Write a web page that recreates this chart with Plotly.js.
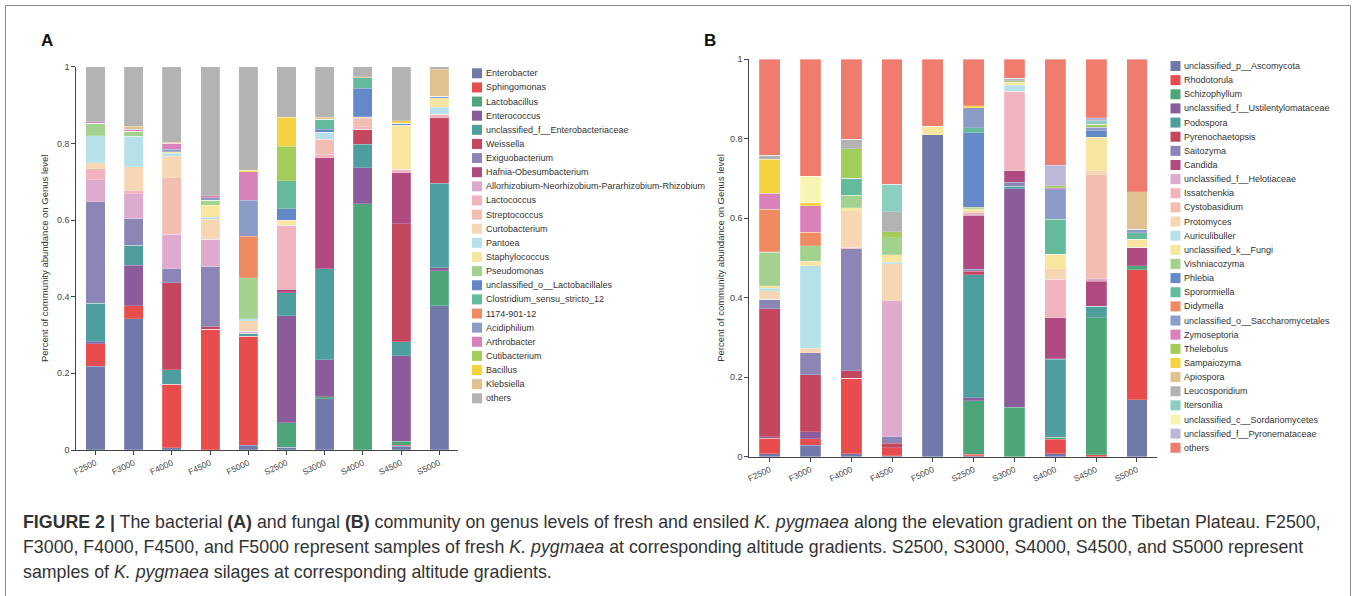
<!DOCTYPE html>
<html>
<head>
<meta charset="utf-8">
<script src="https://cdn.plot.ly/plotly-3.0.1.min.js"></script>
<style>html,body{margin:0;padding:0;background:#fff;}#chart{width:1357px;height:596px;}</style>
</head>
<body>
<div id="chart"></div>
<script>
// ---------- DATA ----------
const samples = ['F2500','F3000','F4000','F4500','F5000','S2500','S3000','S4000','S4500','S5000'];
const yTickVals = [0, 0.2, 0.4, 0.6, 0.8, 1];
const yTickText = ['0', '0.2', '0.4', '0.6', '0.8', '1'];

const bacteriaNames = ['Enterobacter','Sphingomonas','Lactobacillus','Enterococcus','unclassified_f__Enterobacteriaceae','Weissella','Exiguobacterium','Hafnia-Obesumbacterium','Allorhizobium-Neorhizobium-Pararhizobium-Rhizobium','Lactococcus','Streptococcus','Curtobacterium','Pantoea','Staphylococcus','Pseudomonas','unclassified_o__Lactobacillales','Clostridium_sensu_stricto_12','1174-901-12','Acidiphilium','Arthrobacter','Cutibacterium','Bacillus','Klebsiella','others'];

// bacterial relative abundance per sample (order = bacteriaNames)
const bacF2500 = [.219,.058,0,.005,.101,0,.265,0,.057,.029,0,.016,.070,0,.032,0,0,0,0,.005,0,0,0,.143];
const bacF3000 = [.343,.033,0,.106,.052,0,.070,0,.064,.008,0,.063,.080,0,.013,0,0,0,0,.005,0,0,.008,.155];
const bacF4000 = [.006,.166,0,0,.038,.227,.036,0,.090,0,.147,.057,.007,.004,0,0,0,0,.006,.016,0,0,.003,.197];
const bacF4500 = [0,.315,0,0,0,.007,.158,0,.070,0,0,.052,.005,.031,.014,0,0,0,.006,.005,0,0,0,.337];
const bacF5000 = [.012,.285,0,0,.007,0,0,0,.006,0,0,.027,.006,0,.106,0,0,.109,.094,.074,0,.004,0,.270];
const bacS2500 = [.007,0,.064,.279,.060,0,0,.009,0,.168,0,0,0,.013,0,.030,.073,0,0,0,.090,.075,0,.132];
const bacS3000 = [.134,0,.005,.096,.238,0,0,.290,0,.008,.040,0,.018,0,0,.008,.026,0,0,0,0,0,.005,.132];
const bacS4000 = [0,0,.642,.094,.062,.039,0,0,0,.006,.022,.005,0,0,0,.074,.027,0,0,0,0,0,.003,.026];
const bacS4500 = [.010,.003,.010,.223,.036,.308,0,.133,0,.010,0,0,0,.114,0,.005,0,0,0,0,0,.007,0,.141];
const bacS5000 = [.376,0,.092,.008,.220,.171,0,0,0,.009,0,0,.018,.025,0,.004,0,0,0,0,0,0,.070,.007];

const fungiNames = ['unclassified_p__Ascomycota','Rhodotorula','Schizophyllum','unclassified_f__Ustilentylomataceae','Podospora','Pyrenochaetopsis','Saitozyma','Candida','unclassified_f__Helotiaceae','Issatchenkia','Cystobasidium','Protomyces','Auriculibuller','unclassified_k__Fungi','Vishniacozyma','Phlebia','Sporormiella','Didymella','unclassified_o__Saccharomycetales','Zymoseptoria','Thelebolus','Sampaiozyma','Apiospora','Leucosporidium','Itersonilia','unclassified_c__Sordariomycetes','unclassified_f__Pyronemataceae','others'];

// fungal relative abundance per sample (order = fungiNames)
const funF2500 = [.007,.039,0,.004,0,.322,.024,0,0,0,0,.022,.006,.006,.084,0,.002,.107,0,.040,0,.085,0,.010,0,0,0,.242];
const funF3000 = [.029,.016,0,.018,0,.143,.056,0,0,0,0,.011,.207,.012,.039,0,0,.034,0,.067,0,.008,0,0,0,.066,0,.294];
const funF4000 = [.008,.189,0,0,0,.019,.307,0,0,.004,0,.092,0,.008,.031,0,.043,0,0,0,.074,0,0,.024,0,0,0,.201];
const funF4500 = [.003,.020,0,0,0,.011,.016,0,.342,0,0,.094,.003,.019,.043,0,0,0,0,0,.015,0,0,.051,.068,0,0,.315];
const funF5000 = [.810,0,0,0,0,0,0,0,0,0,0,0,0,.022,0,0,0,0,0,0,0,0,0,0,0,0,0,.168];
const funS2500 = [.003,.003,.135,.007,.310,.009,.005,.136,0,.006,0,.005,0,.005,.004,.187,.013,0,.050,0,0,.005,0,0,0,0,0,.117];
const funS3000 = [0,0,.124,.550,.006,0,.010,.029,0,.200,0,0,.016,.007,.004,0,0,0,0,0,0,0,0,.006,0,0,0,.048];
const funS4000 = [.008,.036,.005,0,.196,.002,0,.103,0,.096,0,.027,0,.037,0,0,.088,0,.076,.003,.005,0,0,0,0,0,.052,.266];
const funS4500 = [0,.005,.345,0,.028,0,0,.064,.006,0,.261,.010,0,.085,0,.016,0,0,.009,0,.008,0,0,0,.008,0,.008,.147];
const funS5000 = [.143,.327,.011,0,0,0,0,.046,0,0,0,0,0,.020,0,0,.016,0,.009,0,0,0,.095,0,0,0,0,.333];

// ---------- STYLES ----------
const basePalette = ['#6f7aaa','#e84c4c','#4da678','#8b5b9b','#4e9d9f','#c5475f','#8c86b6','#b04a80','#deaacd','#f1b3bd','#f2beb1','#f6d6b3','#b7e1ea','#f8e59f','#a2d28e','#6389c9','#64bb9b','#f08a61','#8b9cc8','#d982b9','#a3cd5b','#f5d23f','#e1c18f'];
const bacteriaColors = basePalette.concat(['#b3b3b3']);
const fungiColors = basePalette.concat(['#b3b3b3','#8acfc0','#f8f5b3','#bdb8db','#ef7c6d']);

const W = 1357, H = 596;
const PX = p => p / W;
const PY = p => 1 - p / H;
const FONT = 'Liberation Sans, Arial, sans-serif';

const bacSamples = [bacF2500,bacF3000,bacF4000,bacF4500,bacF5000,bacS2500,bacS3000,bacS4000,bacS4500,bacS5000];
const funSamples = [funF2500,funF3000,funF4000,funF4500,funF5000,funS2500,funS3000,funS4000,funS4500,funS5000];

const traces = [];
bacteriaNames.forEach((name, g) => {
  traces.push({
    type: 'bar', name: name, x: samples, y: bacSamples.map(s => s[g]),
    xaxis: 'x', yaxis: 'y', width: 0.5,
    marker: {color: bacteriaColors[g], line: {width: 0.4, color: 'rgba(255,255,255,0.5)'}},
    showlegend: false, hoverinfo: 'name+y'
  });
});
fungiNames.forEach((name, g) => {
  traces.push({
    type: 'bar', name: name, x: samples, y: funSamples.map(s => s[g]),
    xaxis: 'x2', yaxis: 'y2', width: 0.51,
    marker: {color: fungiColors[g], line: {width: 0.4, color: 'rgba(255,255,255,0.5)'}},
    showlegend: false, hoverinfo: 'name+y'
  });
});

const shapes = [];
const annotations = [];

// manual legends
function addLegend(names, colors, swX, txX, y0, step) {
  names.forEach((n, i) => {
    const cy = y0 + i * step;
    shapes.push({type: 'rect', xref: 'paper', yref: 'paper',
      x0: PX(swX), x1: PX(swX + 10), y0: PY(cy + 5), y1: PY(cy - 5),
      fillcolor: colors[i], line: {width: 0}});
    annotations.push({xref: 'paper', yref: 'paper', x: PX(txX), y: PY(cy),
      xanchor: 'left', yanchor: 'middle', showarrow: false, text: n,
      font: {family: FONT, size: 9, color: '#333'}});
  });
}
addLegend(bacteriaNames, bacteriaColors, 472, 484, 73.3, 14.13);
addLegend(fungiNames, fungiColors, 1170.5, 1182, 66, 14.14);

// panel letters
annotations.push({xref:'paper', yref:'paper', x: PX(47), y: PY(40), xanchor:'center', yanchor:'middle', showarrow:false, text:'<b>A</b>', font:{family: FONT, size: 17, color:'#111'}});
annotations.push({xref:'paper', yref:'paper', x: PX(710), y: PY(40), xanchor:'center', yanchor:'middle', showarrow:false, text:'<b>B</b>', font:{family: FONT, size: 17, color:'#111'}});

// caption
const capFont = {family: 'Liberation Sans, Arial, sans-serif', size: 17.8, color: '#333'};
const captionLines = [
  '<b>FIGURE 2 |</b> The bacterial <b>(A)</b> and fungal <b>(B)</b> community on genus levels of fresh and ensiled <i>K. pygmaea</i> along the elevation gradient on the Tibetan Plateau. F2500,',
  'F3000, F4000, F4500, and F5000 represent samples of fresh <i>K. pygmaea</i> at corresponding altitude gradients. S2500, S3000, S4000, S4500, and S5000 represent',
  'samples of <i>K. pygmaea</i> silages at corresponding altitude gradients.'
];
[522, 547, 572].forEach((cy, i) => {
  annotations.push({xref:'paper', yref:'paper', x: PX(21), y: PY(cy), xanchor:'left', yanchor:'middle', showarrow:false, text: captionLines[i], font: capFont});
});

// frame
shapes.push({type:'rect', xref:'paper', yref:'paper', x0: PX(5.5), x1: PX(1350.5), y0: PY(620), y1: PY(5.5), line:{color:'#8a8a8a', width:1}, fillcolor:'rgba(0,0,0,0)', layer:'below'});

const axisCommon = {
  showgrid: false, zeroline: false, showline: true, linecolor: '#444', linewidth: 1,
  ticks: 'outside', ticklen: 4, tickcolor: '#444',
  tickfont: {family: FONT, size: 9, color: '#444'}
};
const yTitle = 'Percent of community abundance on Genus level';

const layout = {
  width: W, height: H,
  margin: {l: 0, r: 0, t: 0, b: 0},
  paper_bgcolor: '#fff', plot_bgcolor: 'rgba(0,0,0,0)',
  barmode: 'stack', showlegend: false,
  xaxis: Object.assign({}, axisCommon, {domain: [PX(76.4), PX(458.4)], range: [-0.5, 9.5], type: 'category', tickangle: -25, anchor: 'y', tickfont: {family: FONT, size: 8.5, color: '#444'}}),
  yaxis: Object.assign({}, axisCommon, {domain: [PY(450), PY(66.7)], range: [0, 1], tickvals: yTickVals, ticktext: yTickText, anchor: 'x',
    title: {text: yTitle, standoff: 6, font: {family: FONT, size: 9.5, color: '#333'}}}),
  xaxis2: Object.assign({}, axisCommon, {domain: [PX(749.3), PX(1157.3)], range: [-0.5, 9.5], type: 'category', tickangle: -25, anchor: 'y2', tickfont: {family: FONT, size: 8.5, color: '#444'}}),
  yaxis2: Object.assign({}, axisCommon, {domain: [PY(456.7), PY(59.3)], range: [0, 1], tickvals: yTickVals, ticktext: yTickText, anchor: 'x2',
    title: {text: yTitle, standoff: 3, font: {family: FONT, size: 9.5, color: '#333'}}}),
  shapes: shapes,
  annotations: annotations
};

Plotly.newPlot('chart', traces, layout, {displayModeBar: false, staticPlot: true});
</script>
</body>
</html>
